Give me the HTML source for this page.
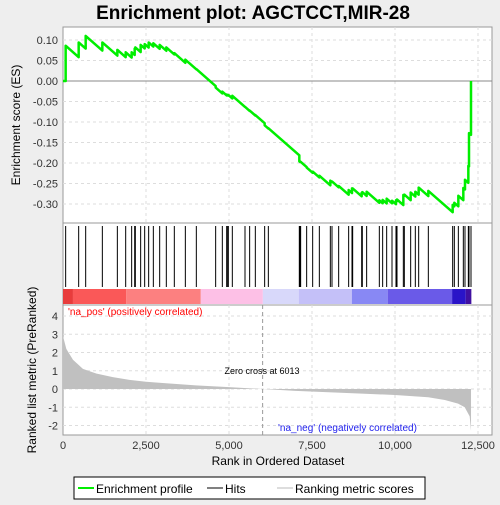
<!DOCTYPE html>
<html><head><meta charset="utf-8"><style>
body{margin:0;background:#eeeeee;font-family:"Liberation Sans",sans-serif}
svg text{font-family:"Liberation Sans",sans-serif}
</style></head><body>
<svg id="c" width="500" height="500" xmlns="http://www.w3.org/2000/svg">
<rect x="0" y="0" width="500" height="500" fill="#eeeeee"/>
<text x="253" y="19" font-size="19" font-weight="bold" text-anchor="middle">Enrichment plot: AGCTCCT,MIR-28</text>
<rect x="63" y="27" width="429" height="196" fill="#fff" stroke="#999"/>
<rect x="63" y="223" width="429" height="82" fill="#fff" stroke="#999"/>
<rect x="63" y="305" width="429" height="130" fill="#fff" stroke="#999"/>
<g id="grid"></g><g id="colorbar"></g><g id="metric"></g><g id="hits"></g><g id="es"></g><g id="axes"></g>
<text x="20" y="125" font-size="12" text-anchor="middle" transform="rotate(-90 20 125)">Enrichment score (ES)</text>
<text x="36" y="370" font-size="12" text-anchor="middle" transform="rotate(-90 36 370)">Ranked list metric (PreRanked)</text>
<text x="278" y="465" font-size="12" text-anchor="middle">Rank in Ordered Dataset</text>
<text x="68" y="315" font-size="10" fill="#ff0000">'na_pos' (positively correlated)</text>
<text x="278" y="431" font-size="10" fill="#2222ee">'na_neg' (negatively correlated)</text>
<text x="262" y="374" font-size="9" text-anchor="middle">Zero cross at 6013</text>
<g>
<rect x="74" y="477" width="351" height="22" fill="#fff" stroke="#000"/>
<line x1="78" y1="488" x2="94" y2="488" stroke="#00ee00" stroke-width="2"/>
<text x="96" y="493" font-size="12">Enrichment profile</text>
<line x1="207" y1="488" x2="223" y2="488" stroke="#000" stroke-width="1"/>
<text x="225" y="493" font-size="12">Hits</text>
<line x1="277" y1="488" x2="293" y2="488" stroke="#bbb"/>
<text x="295" y="493" font-size="12">Ranking metric scores</text>
</g>
</svg>
<script>
const hitRanks=[80,472,683,1185,1637,1888,2068,2159,2179,2339,2460,2580,2721,2912,3112,3353,3685,4016,4598,4799,4930,4960,4980,5100,5482,5622,5793,6074,6185,7118,7138,7158,7339,7520,7721,8052,8102,8303,8604,8705,8725,8996,9016,9146,9528,9628,9749,9910,10030,10060,10251,10281,10472,10612,10713,11004,11737,11787,11908,12058,12108,12209,12229,12289];
const esPeaks=[0.086,0.094,0.11,0.094,0.076,0.07,0.07,0.079,0.082,0.088,0.09,0.094,0.092,0.088,0.082,0.068,0.052,0.029,-0.016,-0.026,-0.033,-0.034,-0.034,-0.036,-0.063,-0.072,-0.083,-0.108,-0.115,-0.196,-0.196,-0.197,-0.211,-0.221,-0.231,-0.243,-0.245,-0.256,-0.266,-0.262,-0.262,-0.273,-0.271,-0.27,-0.291,-0.29,-0.287,-0.292,-0.291,-0.289,-0.278,-0.277,-0.272,-0.27,-0.26,-0.268,-0.302,-0.297,-0.28,-0.261,-0.241,-0.207,-0.127,0.0];
const metricRanks=[0,100,300,600,1000,1500,2000,2500,3000,4000,5000,6013,7000,8000,9000,10000,11000,11500,11900,12100,12250,12290];
const metricValues=[2.9,2.2,1.6,1.1,0.85,0.65,0.5,0.4,0.33,0.2,0.1,0,-0.1,-0.18,-0.25,-0.33,-0.45,-0.6,-0.8,-1.0,-1.5,-2.3];
const xTicks=[0,2500,5000,7500,10000,12500];
const esTicks=[0.1,0.05,0,-0.05,-0.1,-0.15,-0.2,-0.25,-0.3];
const metricTicks=[4,3,2,1,0,-1,-2];
const barStops=[[0,"#e83c3c"],[300,"#fa5858"],[1900,"#fc8080"],[4150,"#fdc0e6"],[6020,"#d8d8fa"],[7100,"#c4c0f8"],[8700,"#8888f4"],[9780,"#6a5ae8"],[11720,"#2a14c8"],[12130,"#4010a0"],[12300,null]];
const NS="http://www.w3.org/2000/svg";
const X=r=>63+r*415/12500;
const YE=v=>81-v*410;
const YM=v=>389-v*18.25;
function mk(p,t,a){const e=document.createElementNS(NS,t);for(const k in a)e.setAttribute(k,a[k]);p.appendChild(e);return e;}
const grid=document.getElementById('grid'),axes=document.getElementById('axes');
xTicks.forEach(t=>{
 if(t>0){const g1=mk(grid,'line',{x1:X(t),x2:X(t),y1:27,y2:223,stroke:'#ddd','stroke-dasharray':'3,3'});
 
 const g2=mk(grid,'line',{x1:X(t),x2:X(t),y1:305,y2:435,stroke:'#ddd','stroke-dasharray':'3,3'});
 }
 const tl=mk(axes,'text',{x:X(t),y:449,'font-size':11,'text-anchor':'middle',fill:'#333'});
 
 tl.textContent=t.toLocaleString('en-US');
});
esTicks.forEach(t=>{
 const g=mk(grid,'line',{x1:63,x2:492,y1:YE(t),y2:YE(t),stroke:t===0?'#888':'#ddd','stroke-dasharray':t===0?'':'3,3'});
 
 const tl=mk(axes,'text',{x:58,y:YE(t)+4,'font-size':11,'text-anchor':'end',fill:'#333'});
 
 tl.textContent=t.toFixed(2);
});
metricTicks.forEach(t=>{
 const g=mk(grid,'line',{x1:63,x2:492,y1:YM(t),y2:YM(t),stroke:'#ddd','stroke-dasharray':'3,3'});
 
 const tl=mk(axes,'text',{x:58,y:YM(t)+4,'font-size':11,'text-anchor':'end',fill:'#333'});
 
 tl.textContent=t;
});
const zl=mk(grid,'line',{x1:X(6013),x2:X(6013),y1:305,y2:435,stroke:'#999','stroke-dasharray':'4,3'});

const cb=document.getElementById('colorbar');
for(let i=0;i<barStops.length-1;i++){
 const r=mk(cb,'rect',{x:X(barStops[i][0]),y:289,width:X(barStops[i+1][0])-X(barStops[i][0]),height:15,fill:barStops[i][1]});
 
}
let d='M'+X(0)+','+YM(0);
metricRanks.forEach((r,i)=>{d+=' L'+X(r)+','+YM(metricValues[i]);});
d+=' L'+X(metricRanks[metricRanks.length-1])+','+YM(0)+' Z';
const ma=mk(document.getElementById('metric'),'path',{d:d,fill:'#c0c0c0'});

const hg=document.getElementById('hits');
hitRanks.forEach(r=>{
 const l=mk(hg,'line',{x1:X(r),x2:X(r),y1:226,y2:287,stroke:'#000','stroke-width':1});
 
});
const slope=7.1e-5;
let pts=[[X(0),YE(0)]];let prevR=0,prevV=0;
hitRanks.forEach((r,i)=>{
 const valley=(i===0)?0:prevV-slope*(r-prevR);
 pts.push([X(r),YE(valley)]);pts.push([X(r),YE(esPeaks[i])]);
 prevR=r;prevV=esPeaks[i];
});
const es=mk(document.getElementById('es'),'polyline',{points:pts.map(p=>p.join(',')).join(' '),fill:'none',stroke:'#00ee00','stroke-width':2.5,'stroke-linejoin':'round'});

</script>
</body></html>
